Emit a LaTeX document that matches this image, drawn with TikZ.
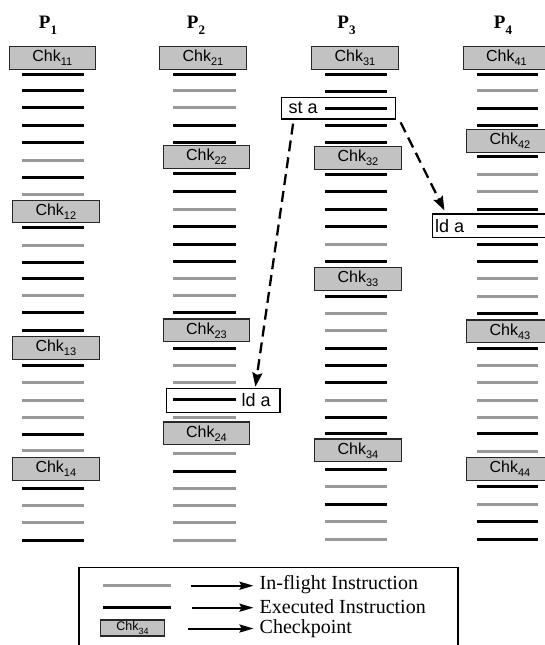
\documentclass[tikz,border=0pt]{standalone}
\usepackage{fontspec}
\setmainfont{Liberation Serif}
\newfontfamily\arial{Liberation Sans}
\usetikzlibrary{arrows.meta}
\definecolor{linegray}{RGB}{153,153,153}
\definecolor{boxgray}{RGB}{194,194,194}
\definecolor{boxedge}{RGB}{40,40,40}
\newcommand\chk[1]{{\arial\fontsize{16}{16}\selectfont Chk\raisebox{-0.25em}{\fontsize{11}{11}\selectfont #1}}}
\newcommand\chksmall[1]{{\arial\fontsize{12.5}{12.5}\selectfont Chk\raisebox{-0.25em}{\fontsize{9}{9}\selectfont #1}}}
\newcommand\phead[1]{{\bfseries\fontsize{19}{19}\selectfont P\raisebox{-0.3em}{\fontsize{13}{13}\selectfont #1}}}
\newcommand\inscol[3]{\foreach \yy/\cc in {#3} {\draw[ins\cc] (#1,\yy) -- (#2,\yy);}}
\begin{document}
\begin{tikzpicture}[x=1pt,y=-1pt,
  insB/.style={line width=3pt,black},
  insG/.style={line width=3pt,linegray},
  chkbox/.style={draw=boxedge,fill=boxgray,line width=1.1pt,minimum width=86.5pt,minimum height=22.6pt,inner sep=0pt},
  insbox/.style={draw=black,line width=1.2pt,inner sep=0pt},
  instext/.style={inner sep=0pt,anchor=west,font=\arial\fontsize{18}{18}\selectfont},
  dasharrow/.style={line width=2.3pt,dash pattern=on 11pt off 6pt,-{Stealth[length=14pt,width=10pt,inset=2pt]}},
  legarrow/.style={line width=2pt,-{Stealth[length=14pt,width=8pt,inset=2pt]}},
  legtext/.style={inner sep=0pt,anchor=west,font=\fontsize{20}{20}\selectfont},
  head/.style={inner sep=0pt}]
\useasboundingbox (0,0) rectangle (544,645);
% headers
\node[head] (p1) at (48,25) {\phead{1}};
\node[head] (p2) at (196,25) {\phead{2}};
\node[head] (p3) at (346.5,25) {\phead{3}};
\node[head] (p4) at (503,25) {\phead{4}};
% column 1
\inscol{22}{84}{74/B,90.7/B,107.7/B,125/B,142/B,160/G,177/B,194/G,227/B,245/G,262/B,278/B,295.3/G,312.7/B,330.7/B,365.7/B,382.7/G,400/G,417/G,434.3/B,450.7/G,488/B,505.3/G,522.7/G,540.7/B}
% column 2
\inscol{173.3}{235.7}{74/B,90.7/G,107.7/G,125.7/B,142.7/B,173.7/B,191/B,209/G,226.7/B,244/B,261.7/B,278.5/G,295.3/G,312.7/B,348.3/B,365.7/G,382.7/G,399.8/B,417/G,453.7/G,471/B,488.3/G,505.3/G,522.7/G,540.7/G}
% column 3
\inscol{325}{386.7}{74/B,91/B,108.4/B,125.7/B,142.7/B,174/B,191/B,209/B,226.7/B,244.3/G,261/B,296/B,313.3/G,330.7/G,348.3/B,365.7/B,382.7/B,400.3/G,417/B,433.7/B,469.7/B,486.7/G,504/B,521.7/G,539.3/G}
% column 4
\inscol{476.7}{538.3}{74/B,90.7/G,108/B,125.7/B,156.7/B,174/G,191/G,209/B,226/B,244/B,261/B,278.7/G,296/G,313.3/B,348.3/B,365.7/G,382.7/G,400/G,417/G,433.7/B,451.7/G,486.7/B,504.3/G,521.7/B,539.3/B}
% checkpoints
\node[chkbox] (c11) at (52.35,58) {\chk{11}};
\node[chkbox] (c12) at (55.85,211.5) {\chk{12}};
\node[chkbox] (c13) at (55.85,348) {\chk{13}};
\node[chkbox] (c14) at (55.85,468.8) {\chk{14}};
\node[chkbox] (c21) at (203,58) {\chk{21}};
\node[chkbox] (c22) at (206.5,157.2) {\chk{22}};
\node[chkbox] (c23) at (206.5,330.3) {\chk{23}};
\node[chkbox] (c24) at (206.5,433.3) {\chk{24}};
\node[chkbox] (c31) at (355,58) {\chk{31}};
\node[chkbox] (c32) at (358,157.8) {\chk{32}};
\node[chkbox] (c33) at (358,279) {\chk{33}};
\node[chkbox] (c34) at (358,450.3) {\chk{34}};
\node[chkbox] (c41) at (506.5,58) {\chk{41}};
\node[chkbox] (c42) at (509.9,141) {\chk{42}};
\node[chkbox] (c43) at (509.9,331.3) {\chk{43}};
\node[chkbox] (c44) at (509.9,468.8) {\chk{44}};
% instruction boxes
\node[insbox,minimum width=114pt,minimum height=21.7pt] (sta) at (338.7,108.2) {};
\node[instext] (statext) at (288.5,108.2) {st a};
\node[insbox,minimum width=113.3pt,minimum height=24pt] (lda2) at (223.35,400.3) {};
\node[instext] (lda2text) at (241.5,400.3) {ld a};
\node[insbox,minimum width=127.7pt,minimum height=23.3pt] (lda4) at (496.15,225.65) {};
\node[instext] (lda4text) at (435,225.65) {ld a};
% dependence arrows
\draw[dasharrow] ([xshift=12pt,yshift=-4pt]sta.south west) -- ([xshift=89.3pt,yshift=1pt]lda2.north west);
\draw[dasharrow] ([xshift=4.3pt,yshift=-2.7pt]sta.south east) -- ([xshift=12.7pt,yshift=3pt]lda4.north west);
% legend
\draw[line width=1.2pt] (79,670) -- (79,567.7) -- (458,567.7) -- (458,670);
\draw[insG] (102.7,585.7) -- (171,585.7);
\draw[insB] (102.7,607.7) -- (171,607.7);
\node[chkbox,minimum width=63.6pt,minimum height=16pt] (lchk) at (132.5,628) {\chksmall{34}};
\coordinate (la1) at (190.7,585.7);
\coordinate (la2) at (191.7,607.7);
\coordinate (la3) at (188,628.5);
\node[legtext] (lt1) at (259.5,585) {In-flight Instruction};
\node[legtext] (lt2) at (259.5,606.5) {Executed Instruction};
\node[legtext] (lt3) at (259.5,629) {Checkpoint};
\draw[legarrow] (la1) -- ([xshift=-6pt,yshift=-0.7pt]lt1.west);
\draw[legarrow] (la2) -- ([xshift=-6pt,yshift=-1.2pt]lt2.west);
\draw[legarrow] (la3) -- ([xshift=-6pt,yshift=0.5pt]lt3.west);
\end{tikzpicture}
\end{document}
